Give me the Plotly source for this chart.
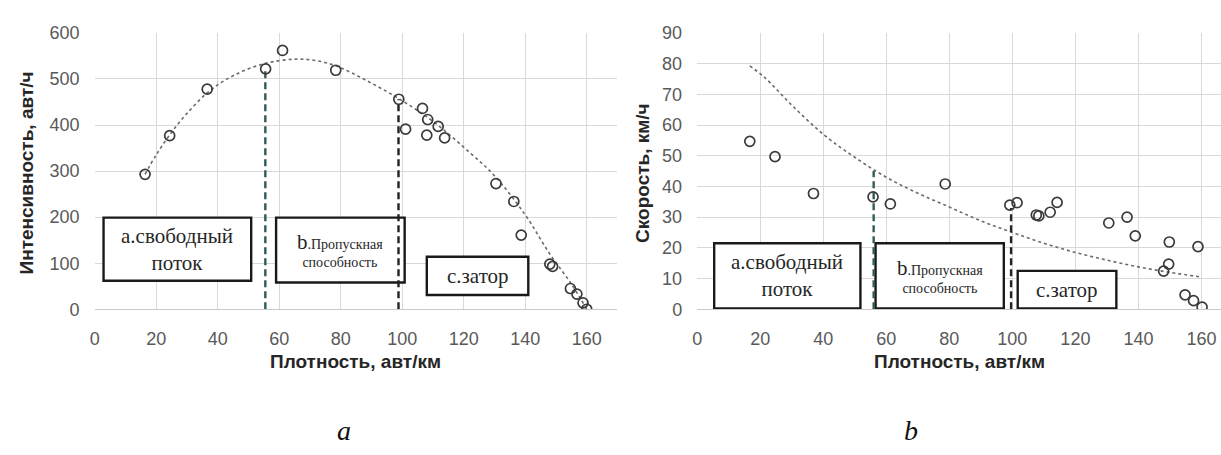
import plotly.graph_objects as go

W, H = 1221, 455

# ---------------- data: left chart (flow vs density) ----------------
dens_a = [16.4, 24.4, 36.6, 55.6, 61.1, 78.4, 98.9, 101.1, 106.6, 108.3, 108.0,
          111.7, 113.8, 130.5, 136.3, 138.7, 148.0, 148.9, 154.7, 156.8, 158.8, 160.0]
flow_a = [293, 377, 478, 522, 562, 519, 456, 391, 436, 412, 378,
          397, 372, 273, 234, 161, 98, 93, 45, 33, 14, 0]
trend_a_x = [16.4, 20, 25, 30, 37, 45, 55, 65, 72, 79, 88, 99, 110, 122, 130, 140, 148, 155, 160]
trend_a_y = [293, 335, 384, 425, 472, 507, 533, 543, 540, 527, 498, 457, 408, 340, 290, 205, 120, 55, 0]
bounds_a_x = [55.5, 98.8]
bounds_a_top = [522, 456]

# ---------------- data: right chart (speed vs density) ----------------
dens_b = [16.7, 24.7, 36.9, 55.8, 61.3, 78.7, 99.2, 101.5, 107.6, 108.4, 112.0,
          114.2, 130.6, 136.4, 139.0, 149.8, 149.6, 148.0, 154.8, 157.5, 160.2, 158.9]
speed_b = [54.7, 49.7, 37.7, 36.6, 34.3, 40.8, 33.9, 34.7, 30.7, 30.4, 31.6,
           34.8, 28.1, 30.0, 23.9, 21.9, 14.7, 12.4, 4.7, 2.8, 0.7, 20.4]
trend_b_x = [16.7, 21.4, 30, 40, 50, 60, 70, 80, 90, 100, 110, 120, 130, 140, 150, 160]
trend_b_y = [79.3, 75.5, 66.5, 57, 49.5, 43, 37.8, 33.3, 28.8, 25, 21.5, 18.5, 16, 13.8, 12, 10.5]
bounds_b_x = [56.0, 99.6]
bounds_b_top = [45, 33]

x_ticks = [0, 20, 40, 60, 80, 100, 120, 140, 160]
y_ticks_a = [0, 100, 200, 300, 400, 500, 600]
y_ticks_b = [0, 10, 20, 30, 40, 50, 60, 70, 80, 90]

# text boxes: (x0, x1, y0, y1, text, font size)
boxes_a = [
    (2.9, 50.9, 62, 199, "a.свободный<br>поток", 21),
    (59.0, 100.8, 58, 199, "<span style='font-size:21px'>b</span>.Пропускная<br>способность", 14),
    (108.0, 141.0, 31, 114, "c.затор", 21),
]
boxes_b = [
    (5.4, 51.8, 0.3, 21.5, "a.свободный<br>поток", 21),
    (56.6, 97.3, 0.3, 21.5, "<span style='font-size:21px'>b</span>.Пропускная<br>способность", 14),
    (101.7, 133.0, 0.3, 12.5, "c.затор", 21),
]

# ---------------- layout geometry (pixels) ----------------
def px_x(p):
    return p / W

def px_y(p):
    return 1 - p / H

plot_top, plot_bottom = 24, 313
left_dom = (90, 615)
right_dom = (695, 1221)

fig = go.Figure()

marker = dict(symbol="circle-open", size=10, color="#3a3a3a", line=dict(width=1.7, color="#333333"))
trend_line = dict(color="#6b6b6b", width=1.6, dash="dot", shape="spline")
dash_pat = "7px,4px"

# left chart traces
fig.add_trace(go.Scatter(x=trend_a_x, y=trend_a_y, mode="lines", line=trend_line,
                         xaxis="x", yaxis="y", hoverinfo="skip"))
fig.add_trace(go.Scatter(x=[bounds_a_x[0]] * 2, y=[0, bounds_a_top[0]], mode="lines",
                         line=dict(color="#2f5b5b", width=2.4, dash=dash_pat), xaxis="x", yaxis="y"))
fig.add_trace(go.Scatter(x=[bounds_a_x[1]] * 2, y=[0, bounds_a_top[1]], mode="lines",
                         line=dict(color="#222222", width=2.4, dash=dash_pat), xaxis="x", yaxis="y"))
fig.add_trace(go.Scatter(x=dens_a, y=flow_a, mode="markers", marker=marker, xaxis="x", yaxis="y"))

# right chart traces
fig.add_trace(go.Scatter(x=trend_b_x, y=trend_b_y, mode="lines", line=trend_line,
                         xaxis="x2", yaxis="y2", hoverinfo="skip"))
fig.add_trace(go.Scatter(x=[bounds_b_x[0]] * 2, y=[0, bounds_b_top[0]], mode="lines",
                         line=dict(color="#2f5b5b", width=2.4, dash=dash_pat), xaxis="x2", yaxis="y2"))
fig.add_trace(go.Scatter(x=[bounds_b_x[1]] * 2, y=[0, bounds_b_top[1]], mode="lines",
                         line=dict(color="#222222", width=2.4, dash=dash_pat), xaxis="x2", yaxis="y2"))
fig.add_trace(go.Scatter(x=dens_b, y=speed_b, mode="markers", marker=marker, xaxis="x2", yaxis="y2"))

shapes = []
annotations = []
serif = "Liberation Serif, Times New Roman, serif"
for boxes, xr, yr in ((boxes_a, "x", "y"), (boxes_b, "x2", "y2")):
    for x0, x1, y0, y1, txt, fs in boxes:
        shapes.append(dict(type="rect", xref=xr, yref=yr, x0=x0, x1=x1, y0=y0, y1=y1,
                           line=dict(color="#1a1a1a", width=2.4), fillcolor="white", layer="between"))
        annotations.append(dict(xref=xr, yref=yr, x=(x0 + x1) / 2, y=(y0 + y1) / 2, text=txt,
                                showarrow=False, font=dict(family=serif, size=fs, color="#262626"),
                                xanchor="center", yanchor="middle", align="center"))

sans = "Liberation Sans, Arial, sans-serif"
title_font = dict(family=sans, size=19, color="#262626")
# axis titles and panel captions
annotations += [
    dict(xref="paper", yref="paper", x=px_x(352), y=px_y(368), text="<b>Плотность, авт/км</b>",
         showarrow=False, font=title_font, xanchor="center", yanchor="middle"),
    dict(xref="paper", yref="paper", x=px_x(958), y=px_y(368), text="<b>Плотность, авт/км</b>",
         showarrow=False, font=title_font, xanchor="center", yanchor="middle"),
    dict(xref="paper", yref="paper", x=px_x(22), y=px_y(170), text="<b>Интенсивность, авт/ч</b>",
         showarrow=False, font=title_font, textangle=-90, xanchor="center", yanchor="middle"),
    dict(xref="paper", yref="paper", x=px_x(640), y=px_y(170), text="<b>Скорость, км/ч</b>",
         showarrow=False, font=title_font, textangle=-90, xanchor="center", yanchor="middle"),
    dict(xref="paper", yref="paper", x=px_x(340), y=px_y(440), text="<i>a</i>",
         showarrow=False, font=dict(family=serif, size=28, color="#111111"), xanchor="center", yanchor="middle"),
    dict(xref="paper", yref="paper", x=px_x(910), y=px_y(440), text="<i>b</i>",
         showarrow=False, font=dict(family=serif, size=28, color="#111111"), xanchor="center", yanchor="middle"),
]

tick_font = dict(family=sans, size=18, color="#595959")
grid = "#d9d9d9"
xcommon = dict(tickmode="array", tickvals=x_ticks, ticktext=[str(v) for v in x_ticks],
               showgrid=True, gridcolor=grid, gridwidth=1, zeroline=False,
               showline=True, linecolor="#c8c8c8", linewidth=1.2, tickfont=tick_font,
               ticks="", ticklabelstandoff=13, fixedrange=True)
ycommon = dict(showgrid=True, gridcolor=grid, gridwidth=1, zeroline=False,
               showline=False, tickfont=tick_font, ticks="", ticklabelstandoff=14, fixedrange=True)

fig.update_layout(
    width=W, height=H,
    margin=dict(l=0, r=0, t=0, b=0),
    paper_bgcolor="white", plot_bgcolor="white",
    showlegend=False,
    xaxis=dict(domain=[px_x(left_dom[0]), px_x(left_dom[1])], range=[0, 170], anchor="y", **xcommon),
    yaxis=dict(domain=[px_y(plot_bottom), px_y(plot_top)], range=[0, 600], anchor="x",
               tickmode="array", tickvals=y_ticks_a, ticktext=[str(v) for v in y_ticks_a], **ycommon),
    xaxis2=dict(domain=[px_x(right_dom[0]), 1.0], range=[0, 166.2], anchor="y2", **xcommon),
    yaxis2=dict(domain=[px_y(plot_bottom), px_y(plot_top)], range=[0, 90], anchor="x2",
                tickmode="array", tickvals=y_ticks_b, ticktext=[str(v) for v in y_ticks_b], **ycommon),
    shapes=shapes,
    annotations=annotations,
)

fig.write_html("out.html")
